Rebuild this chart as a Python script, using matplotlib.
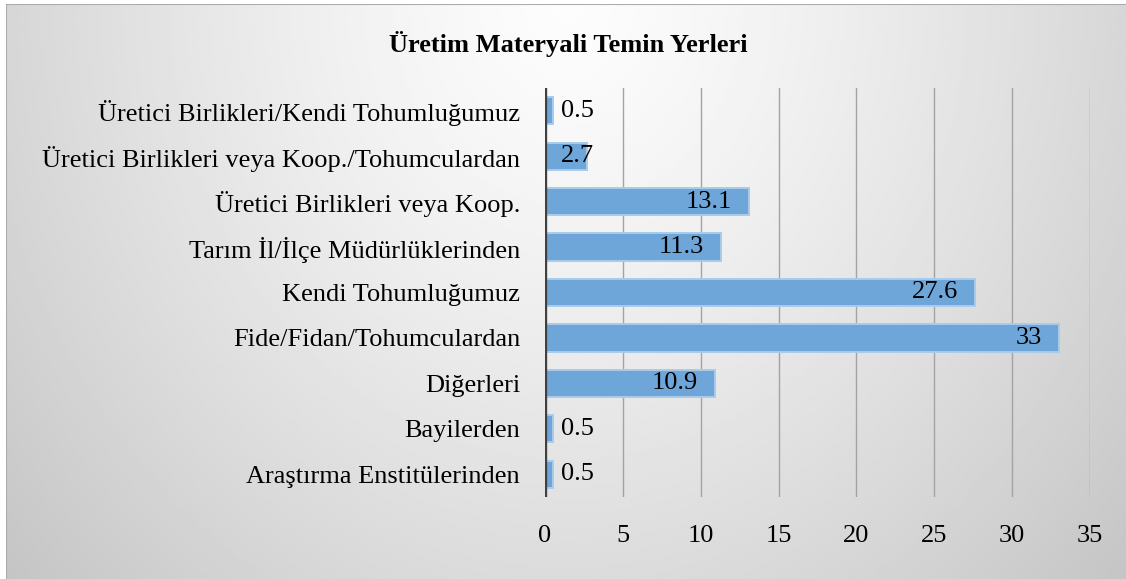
import numpy as np
import matplotlib.pyplot as plt
from matplotlib.patches import Rectangle

# categories from bottom to top (as drawn on the y axis)
CATEGORIES = [
    "Araştırma Enstitülerinden",
    "Bayilerden",
    "Diğerleri",
    "Fide/Fidan/Tohumculardan",
    "Kendi Tohumluğumuz",
    "Tarım İl/İlçe Müdürlüklerinden",
    "Üretici Birlikleri veya Koop.",
    "Üretici Birlikleri veya Koop./Tohumculardan",
    "Üretici Birlikleri/Kendi Tohumluğumuz",
]
VALUES = [0.5, 0.5, 10.9, 33, 27.6, 11.3, 13.1, 2.7, 0.5]
VALUE_LABELS = ["0.5", "0.5", "10.9", "33", "27.6", "11.3", "13.1", "2.7", "0.5"]
X_TICKS = [0, 5, 10, 15, 20, 25, 30, 35]
TITLE = "Üretim Materyali Temin Yerleri"

W, H = 1126, 579
FS = 19
plt.rcParams["font.family"] = ["Liberation Serif", "DejaVu Serif"]

fig = plt.figure(figsize=(W / 100, H / 100), dpi=100)
fig.patch.set_facecolor("white")

# chart area background: radial grey gradient, border visible on top/left only
x0, y0, x1, y1 = 6, 4, 1130, 583
bg = fig.add_axes([x0 / W, 1 - y1 / H, (x1 - x0) / W, (y1 - y0) / H], zorder=0)
gx, gy = np.meshgrid(np.linspace(-1, 1, 400), np.linspace(0, 1, 200))
dist = np.sqrt((gx * 1.0) ** 2 + (gy * 0.9) ** 2) / np.sqrt(1 + 0.81)
light, dark = 0.99, 0.77
grad = light - (light - dark) * np.clip(dist, 0, 1) ** 1.3
bg.imshow(grad, cmap="gray", vmin=0, vmax=1, aspect="auto",
          extent=[0, 1, 0, 1], origin="upper", interpolation="bilinear")
bg.add_patch(Rectangle((0, 0), 1, 1, transform=bg.transAxes, fill=False,
                       edgecolor="#ababab", lw=1.5))
bg.set_axis_off()

ax = fig.add_axes([545 / W, 1 - 497 / H, (1090 - 545) / W, (497 - 88) / H], zorder=1)
ax.patch.set_alpha(0)

y = np.arange(len(CATEGORIES))
ax.barh(y, VALUES, height=0.6, color="#6fa6da", edgecolor="#a9cbeb",
        linewidth=1.4, zorder=3)

for yi, v, lab in zip(y, VALUES, VALUE_LABELS):
    if v < 3:
        ax.annotate(lab, (0, yi), xytext=(16, 0), textcoords="offset pixels",
                    ha="left", va="center", fontsize=FS, color="black", zorder=4)
    else:
        ax.annotate(lab, (v, yi), xytext=(-17, 0), textcoords="offset pixels",
                    ha="right", va="center", fontsize=FS, color="black", zorder=4)

ax.set_xlim(0, 35)
ax.set_ylim(-0.5, len(CATEGORIES) - 0.5)
ax.set_xticks(X_TICKS)
ax.set_xticklabels([str(t) for t in X_TICKS])
ax.set_yticks(y)
ax.set_yticklabels(CATEGORIES)
ax.tick_params(axis="both", length=0, labelsize=FS, colors="black")
ax.tick_params(axis="y", pad=18)
ax.tick_params(axis="x", pad=20)
ax.grid(axis="x", color="#a3a3a3", lw=1.0, zorder=1)
ax.set_axisbelow(True)
for s in ax.spines.values():
    s.set_visible(False)
ax.axvline(0, color="#404040", lw=2.4, zorder=5)

fig.text(568 / W, 1 - 44 / H, TITLE, ha="center", va="center",
         fontsize=19, fontweight="bold", color="black")

fig.savefig("out.png", dpi=100)
